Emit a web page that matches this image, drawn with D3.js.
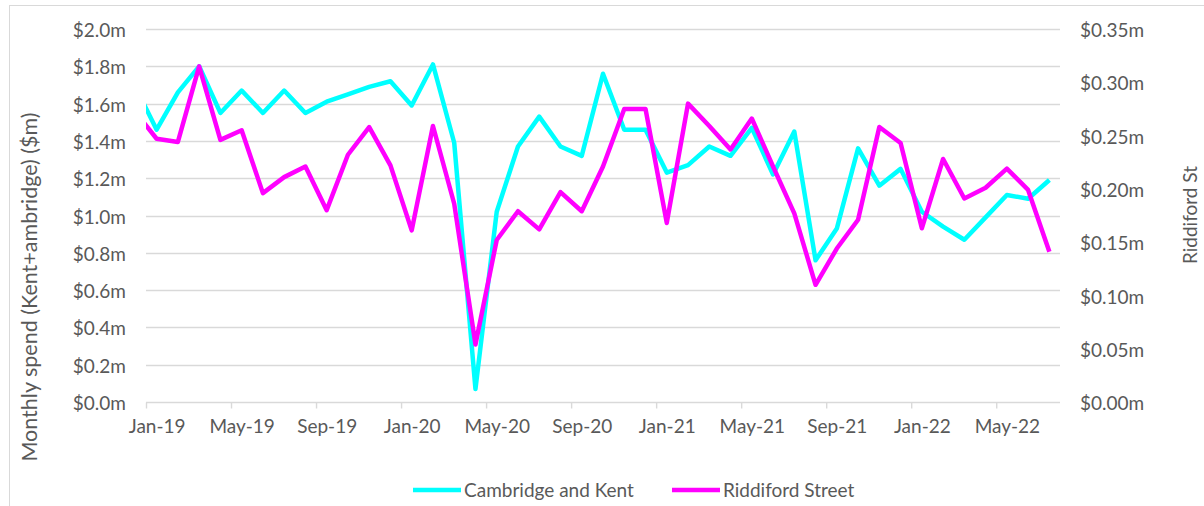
<!DOCTYPE html>
<html>
<head>
<meta charset="utf-8">
<script src="https://cdn.jsdelivr.net/npm/d3@7"></script>
<style>
  html, body { margin: 0; padding: 0; background: #fff; }
  svg { display: block; }
  text { font-family: Lato, "Open Sans", sans-serif; fill: #595959; }
</style>
</head>
<body>
<svg id="chart" width="1204" height="506"></svg>
<script>
// ---- data ----
const months = ["Dec-18",
  "Jan-19","Feb-19","Mar-19","Apr-19","May-19","Jun-19","Jul-19","Aug-19","Sep-19","Oct-19","Nov-19","Dec-19",
  "Jan-20","Feb-20","Mar-20","Apr-20","May-20","Jun-20","Jul-20","Aug-20","Sep-20","Oct-20","Nov-20","Dec-20",
  "Jan-21","Feb-21","Mar-21","Apr-21","May-21","Jun-21","Jul-21","Aug-21","Sep-21","Oct-21","Nov-21","Dec-21",
  "Jan-22","Feb-22","Mar-22","Apr-22","May-22","Jun-22","Jul-22"];
const cambridgeKent = [1.69,
  1.46,1.66,1.80,1.55,1.67,1.55,1.67,1.55,1.61,1.65,1.69,1.72,
  1.59,1.81,1.39,0.07,1.02,1.37,1.53,1.37,1.32,1.76,1.46,1.46,
  1.23,1.27,1.37,1.32,1.47,1.22,1.45,0.76,0.93,1.36,1.16,1.25,
  1.02,0.94,0.87,0.99,1.11,1.09,1.19];
const riddiford = [0.272,
  0.247,0.244,0.315,0.246,0.255,0.196,0.211,0.221,0.180,0.232,0.258,0.222,
  0.161,0.259,0.186,0.054,0.152,0.179,0.162,0.197,0.179,0.221,0.275,0.275,
  0.168,0.280,0.259,0.237,0.266,0.221,0.177,0.110,0.144,0.171,0.258,0.243,
  0.163,0.228,0.191,0.201,0.219,0.199,0.141];
const xTickLabels = ["Jan-19","May-19","Sep-19","Jan-20","May-20","Sep-20","Jan-21","May-21","Sep-21","Jan-22","May-22"];
const leftTicks = [0,0.2,0.4,0.6,0.8,1.0,1.2,1.4,1.6,1.8,2.0];
const rightTicks = [0,0.05,0.10,0.15,0.20,0.25,0.30,0.35];
const seriesNames = ["Cambridge and Kent","Riddiford Street"];
const seriesColors = ["#00FFFF","#FF00FF"];

// ---- layout ----
const svg = d3.select("#chart");
const pLeft = 146, pRight = 1060, pTop = 29, pBottom = 402;
const nMonths = 43; // Jan-19 .. Jul-22
const fs = "19px";

svg.append("rect").attr("x", 9.5).attr("y", 5.5).attr("width", 1200).attr("height", 505)
  .attr("fill", "none").attr("stroke", "#d9d9d9").attr("stroke-width", 1);

const x = d3.scaleLinear().domain([0, nMonths]).range([pLeft, pRight]);
const yL = d3.scaleLinear().domain([0, 2]).range([pBottom, pTop]);
const yR = d3.scaleLinear().domain([0, 0.35]).range([pBottom, pTop]);
// month i in `months` (0 = Dec-18) sits at the centre of its month slot
const xPos = i => x(i - 1 + 0.5);

// gridlines
svg.append("g").selectAll("line").data(leftTicks.slice(1)).join("line")
  .attr("x1", pLeft).attr("x2", pRight)
  .attr("y1", d => Math.round(yL(d)) + 0.5).attr("y2", d => Math.round(yL(d)) + 0.5)
  .attr("stroke", "#d9d9d9").attr("stroke-width", 1.4);

// left axis labels
const gL = svg.append("g").attr("transform", `translate(${pLeft},1.5)`)
  .call(d3.axisLeft(yL).tickValues(leftTicks).tickSize(0).tickPadding(20)
    .tickFormat(d => "$" + d.toFixed(1) + "m"));
gL.select(".domain").remove();
gL.selectAll("text").style("font-size", fs).style("fill", "#595959")
  .style("font-family", "Lato, sans-serif");

// right axis labels
const gR = svg.append("g").attr("transform", `translate(${pRight},1.5)`)
  .call(d3.axisRight(yR).tickValues(rightTicks).tickSize(0).tickPadding(20)
    .tickFormat(d => "$" + d.toFixed(2) + "m"));
gR.select(".domain").remove();
gR.selectAll("text").style("font-size", fs).style("fill", "#595959")
  .style("font-family", "Lato, sans-serif");

// x axis
const tickVals = xTickLabels.map((_, k) => k * 4);
const gX = svg.append("g").attr("transform", `translate(0,${Math.round(pBottom) + 0.5})`)
  .call(d3.axisBottom(x).tickValues(tickVals).tickSize(6).tickPadding(11)
    .tickFormat((d, k) => xTickLabels[k]));
gX.select(".domain").attr("stroke", "#d9d9d9").attr("stroke-width", 1.4).attr("d", `M${pLeft},0H${pRight}`);
gX.selectAll(".tick line").attr("stroke", "#d9d9d9").attr("stroke-width", 1.4);
gX.selectAll(".tick text")
  .attr("x", x(0.5) - x(0))
  .style("font-size", fs).style("fill", "#595959").style("font-family", "Lato, sans-serif");

// axis titles
svg.append("text")
  .attr("transform", "translate(37,287) rotate(-90)")
  .attr("text-anchor", "middle").style("font-size", "21.5px")
  .text("Monthly spend (Kent+ambridge) ($m)");
svg.append("text")
  .attr("transform", "translate(1197,215) rotate(-90)")
  .attr("text-anchor", "middle").style("font-size", "19px")
  .text("Riddiford St");

// clip
svg.append("clipPath").attr("id", "plotClip")
  .append("rect").attr("x", pLeft).attr("y", 0).attr("width", pRight - pLeft + 10).attr("height", 480);

const lineL = d3.line().x((d, i) => xPos(i)).y(d => yL(d));
const lineR = d3.line().x((d, i) => xPos(i)).y(d => yR(d));

const plot = svg.append("g").attr("clip-path", "url(#plotClip)");
plot.append("path").datum(cambridgeKent).attr("d", lineL)
  .attr("fill", "none").attr("stroke", seriesColors[0]).attr("stroke-width", 4.5)
  .attr("stroke-linejoin", "round");
plot.append("path").datum(riddiford).attr("d", lineR)
  .attr("fill", "none").attr("stroke", seriesColors[1]).attr("stroke-width", 4.5)
  .attr("stroke-linejoin", "round");

// legend
const legendX = [413, 672];
const lg = svg.append("g");
seriesNames.forEach((name, k) => {
  lg.append("line").attr("x1", legendX[k]).attr("x2", legendX[k] + 48)
    .attr("y1", 490).attr("y2", 490)
    .attr("stroke", seriesColors[k]).attr("stroke-width", 4.5);
  lg.append("text").attr("x", legendX[k] + 51).attr("y", 496.5)
    .style("font-size", fs).text(name);
});
</script>
</body>
</html>
